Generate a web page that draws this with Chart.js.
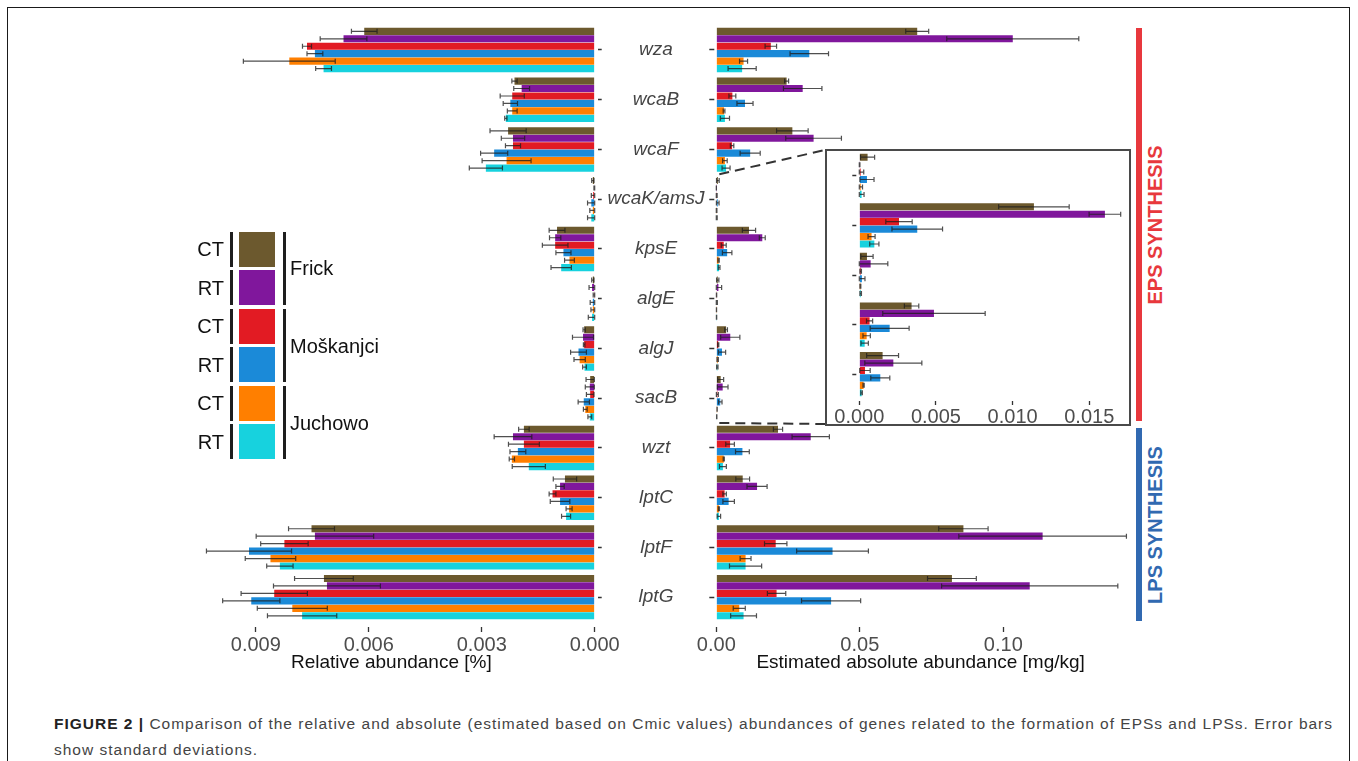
<!DOCTYPE html>
<html>
<head>
<meta charset="utf-8">
<script src="https://cdn.jsdelivr.net/npm/chart.js@4.4.1/dist/chart.umd.min.js"></script>
<style>
  body{margin:0;width:1358px;height:761px;overflow:hidden;background:#fff;position:relative;font-family:"Liberation Sans",Arial,sans-serif}
  .abs{position:absolute}
  #frame{left:7px;top:7px;width:1341px;height:820px;border:1.5px solid #1a1a1a}
  .sq{position:absolute;left:239px;width:36px;height:35px}
  .lbar{position:absolute;width:3px;background:#1e1e1e}
  .lt{position:absolute;font-size:20px;color:#111;transform:translateY(-50%);white-space:nowrap}
  .vlabel{position:absolute;font-weight:bold;font-size:20px;white-space:nowrap;transform:translate(-50%,-50%) rotate(-90deg)}
  #insetBox{left:825px;top:149px;width:302px;height:273px;border:2px solid #4a4a4a;background:#fff;z-index:5}
  #caption{left:54px;top:711px;font-size:15.5px;line-height:26px;color:#444;white-space:nowrap}
</style>
</head>
<body>
<div id="frame" class="abs"></div>
<canvas id="relChart" class="abs" width="540" height="680" style="left:180px;top:0"></canvas>
<canvas id="absChart" class="abs" width="470" height="680" style="left:660px;top:0"></canvas>
<div id="insetBox" class="abs"><canvas id="insetChart" width="302" height="273"></canvas></div>
<div id="legend"></div>
<div class="abs" style="left:1136px;top:28px;width:6px;height:393px;background:#E8383D"></div>
<div class="abs" style="left:1136px;top:428px;width:6px;height:193px;background:#3169B1"></div>
<div class="vlabel" style="left:1155px;top:225px;color:#E8383D">EPS SYNTHESIS</div>
<div class="vlabel" style="left:1155px;top:525px;color:#3169B1">LPS SYNTHESIS</div>
<div id="caption" class="abs"><span id="capLine1"><b style="color:#222">FIGURE 2 |</b> Comparison of the relative and absolute (estimated based on Cmic values) abundances of genes related to the formation of EPSs and LPSs. Error bars</span><br><span id="capLine2">show standard deviations.</span></div>
<script>
const genes = ['wza','wcaB','wcaF','wcaK/amsJ','kpsE','algE','algJ','sacB','wzt','lptC','lptF','lptG'];
const seriesSites = ['Frick','Frick','Moškanjci','Moškanjci','Juchowo','Juchowo'];
const seriesTillage = ['CT','RT','CT','RT','CT','RT'];
const seriesColors = ['#6C592E','#80179C','#E21B23','#1B8AD8','#FF7F00','#17D2DE'];

// relative abundance [%]
const relFrickCT = [0.00612,0.00213,0.00230,0.00005,0.00100,0.00005,0.00028,0.00012,0.00188,0.00079,0.00752,0.00719];
const relFrickRT = [0.00667,0.00194,0.00217,0.00001,0.00105,0.00007,0.00031,0.00013,0.00217,0.00092,0.00743,0.00711];
const relMosCT   = [0.00764,0.00219,0.00217,0.00004,0.00105,0.00002,0.00028,0.00012,0.00188,0.00112,0.00824,0.00851];
const relMosRT   = [0.00743,0.00224,0.00267,0.00009,0.00083,0.00005,0.00043,0.00029,0.00204,0.00092,0.00918,0.00912];
const relJuCT    = [0.00811,0.00219,0.00234,0.00005,0.00067,0.00005,0.00040,0.00025,0.00220,0.00068,0.00861,0.00803];
const relJuRT    = [0.00720,0.00236,0.00289,0.00009,0.00089,0.00007,0.00027,0.00013,0.00175,0.00076,0.00836,0.00777];
const relSdFrickCT = [0.00034,0.00007,0.00048,0.00003,0.00021,0.00003,0.00003,0.00011,0.00014,0.00031,0.00061,0.00078];
const relSdFrickRT = [0.00062,0.00021,0.00031,0.00001,0.00015,0.00008,0.00028,0.00012,0.00050,0.00011,0.00156,0.00142];
const relSdMosCT   = [0.00012,0.00032,0.00020,0.00005,0.00034,0.00002,0.00002,0.00010,0.00041,0.00009,0.00063,0.00088];
const relSdMosRT   = [0.00021,0.00019,0.00036,0.00010,0.00020,0.00007,0.00021,0.00015,0.00021,0.00026,0.00113,0.00076];
const relSdJuCT    = [0.00122,0.00013,0.00065,0.00008,0.00013,0.00005,0.00015,0.00005,0.00007,0.00008,0.00067,0.00093];
const relSdJuRT    = [0.00021,0.00003,0.00044,0.00010,0.00027,0.00010,0.00005,0.00005,0.00044,0.00012,0.00035,0.00092];

// estimated absolute abundance [mg/kg]
const absFrickCT = [0.0700,0.0245,0.0265,0.00054,0.01139,0.00050,0.00341,0.00152,0.0215,0.0092,0.0861,0.0821];
const absFrickRT = [0.1033,0.0301,0.0339,0.00002,0.01602,0.00074,0.00487,0.00222,0.0329,0.0142,0.1137,0.1092];
const absMosCT   = [0.0190,0.0056,0.0055,0.00009,0.00259,0.00009,0.00067,0.00037,0.0048,0.0029,0.0207,0.0210];
const absMosRT   = [0.0324,0.0100,0.0118,0.00050,0.00378,0.00017,0.00198,0.00137,0.0091,0.0043,0.0405,0.0400];
const absJuCT    = [0.0095,0.0027,0.0030,0.00009,0.00080,0.00007,0.00048,0.00028,0.0026,0.0009,0.0102,0.0080];
const absJuRT    = [0.0090,0.0030,0.0034,0.00015,0.00098,0.00009,0.00035,0.00015,0.0023,0.0009,0.0102,0.0095];
const absSdFrickCT = [0.0040,0.0007,0.0055,0.00046,0.00230,0.00040,0.00047,0.00104,0.0016,0.0024,0.0086,0.0085];
const absSdFrickRT = [0.0230,0.0067,0.0097,0.00002,0.00103,0.00112,0.00334,0.00186,0.0065,0.0035,0.0292,0.0307];
const absSdMosCT   = [0.0020,0.0012,0.0006,0.00020,0.00086,0.00005,0.00020,0.00034,0.0015,0.0006,0.0039,0.0032];
const absSdMosRT   = [0.0067,0.0028,0.0035,0.00046,0.00165,0.00020,0.00127,0.00062,0.0024,0.0020,0.0125,0.0103];
const absSdJuCT    = [0.0014,0.0003,0.0008,0.00012,0.00023,0.00003,0.00024,0.00004,0.0002,0.0002,0.0019,0.0021];
const absSdJuRT    = [0.0049,0.0016,0.0014,0.00016,0.00030,0.00005,0.00024,0.00005,0.0012,0.0006,0.0056,0.0045];

const relTicks = [0, 0.003, 0.006, 0.009];
const absTicks = [0, 0.05, 0.10];
const insetTicks = [0, 0.005, 0.010, 0.015];
const insetFrom = 3, insetTo = 8; // wcaK/amsJ .. sacB

const relSeries = [relFrickCT, relFrickRT, relMosCT, relMosRT, relJuCT, relJuRT];
const relSd = [relSdFrickCT, relSdFrickRT, relSdMosCT, relSdMosRT, relSdJuCT, relSdJuRT];
const absSeries = [absFrickCT, absFrickRT, absMosCT, absMosRT, absJuCT, absJuRT];
const absSd = [absSdFrickCT, absSdFrickRT, absSdMosCT, absSdMosRT, absSdJuCT, absSdJuRT];

const FONT = '"Liberation Sans", Arial, sans-serif';

// error bars drawn from the x scale of each chart
const errorBars = {
  id: 'errorBars',
  afterDatasetsDraw(chart){
    const ctx = chart.ctx, xs = chart.scales.x;
    ctx.save();
    ctx.strokeStyle = 'rgba(30,30,30,0.78)';
    ctx.lineWidth = 1.2;
    chart.data.datasets.forEach((ds, di) => {
      chart.getDatasetMeta(di).data.forEach((bar, i) => {
        const v = ds.data[i], sd = ds.sd[i];
        const x1 = xs.getPixelForValue(Math.max(0, v - sd)), x2 = xs.getPixelForValue(v + sd);
        const y = bar.y, h = 5;
        ctx.beginPath();
        ctx.moveTo(x1, y); ctx.lineTo(x2, y);
        ctx.moveTo(x1, y - h/2); ctx.lineTo(x1, y + h/2);
        ctx.moveTo(x2, y - h/2); ctx.lineTo(x2, y + h/2);
        ctx.stroke();
      });
    });
    ctx.restore();
  }
};

function makeDatasets(series, sds, from, to){
  return series.map((s, k) => ({
    label: seriesSites[k] + ' ' + seriesTillage[k],
    data: s.slice(from, to),
    sd: sds[k].slice(from, to),
    backgroundColor: seriesColors[k],
    borderWidth: 0,
    categoryPercentage: 0.9,
    barPercentage: 0.96
  }));
}

function xAxis(max, ticksAt, digits, title, reverse, height, tickDash, pad){
  return {
    type: 'linear', min: 0, max: max, reverse: reverse,
    afterBuildTicks: s => { s.ticks = ticksAt.map(v => ({value: v})); },
    ticks: {color: '#4d4d4d', font: {family: FONT, size: 20}, padding: pad, maxRotation: 0,
            callback: v => Number(v).toFixed(digits)},
    grid: {display: true, drawOnChartArea: false, drawTicks: true, tickLength: 10,
           tickColor: '#333', tickWidth: 1.3, tickBorderDash: tickDash},
    border: {display: false},
    title: {display: !!title, text: title, color: '#111', font: {family: FONT, size: 19},
            padding: {top: 0, bottom: 6}},
    afterFit: s => { s.height = height; }
  };
}

function yTicksOnly(position, width, dash){
  return {
    position: position,
    ticks: {display: false, autoSkip: false},
    grid: {display: true, offset: false, drawOnChartArea: false, tickLength: 7, tickColor: '#333',
           tickWidth: 1.5, tickBorderDash: dash},
    border: {display: false},
    afterFit: s => { s.width = width; }
  };
}

const common = {
  indexAxis: 'y', responsive: false, animation: false,
  plugins: {legend: {display: false}, tooltip: {enabled: false}}
};

// left panel: relative abundance, axis runs right-to-left
const mctx = document.createElement('canvas').getContext('2d');
mctx.font = 'italic 19px ' + FONT;
const widest = Math.max(...genes.map(g => mctx.measureText(g).width));
const geneCenter = 656 - 180; // inside left canvas
const relPlotRight = 594.7 - 180;

new Chart(document.getElementById('relChart'), {
  type: 'bar',
  data: {labels: genes, datasets: makeDatasets(relSeries, relSd, 0, genes.length)},
  options: Object.assign({}, common, {
    layout: {padding: {left: 8, top: 25.1, right: 0, bottom: 0}},
    scales: {
      x: xAxis(0.0108, relTicks, 3, 'Relative abundance [%]', true, 58, [0,5,5,100], 1),
      y: {
        position: 'right',
        ticks: {autoSkip: false, crossAlign: 'center', color: '#444',
                padding: geneCenter - relPlotRight - 7 - widest/2,
                font: {family: FONT, size: 19, style: 'italic'}},
        grid: {display: true, offset: false, drawOnChartArea: false, tickLength: 7, tickColor: '#333',
               tickWidth: 1.5, tickBorderDash: [0,3,4,100]},
        border: {display: false},
        afterFit: s => { s.width = 540 - relPlotRight; }
      }
    }
  }),
  plugins: [errorBars]
});

// right panel: estimated absolute abundance
const insetLeftInAbs = 825 - 660;
const connectors = {
  id: 'connectors',
  afterDraw(chart){
    const {ctx, scales: {x, y}} = chart;
    const x0 = x.getPixelForValue(0) + 3;
    ctx.save();
    ctx.strokeStyle = '#333'; ctx.lineWidth = 2; ctx.setLineDash([10, 6]);
    ctx.beginPath();
    ctx.moveTo(x0, y.getPixelForValue(insetFrom - 0.5)); ctx.lineTo(insetLeftInAbs, 150);
    ctx.moveTo(x0, y.getPixelForValue(insetTo - 0.5)); ctx.lineTo(insetLeftInAbs, 424);
    ctx.stroke();
    ctx.restore();
  }
};

new Chart(document.getElementById('absChart'), {
  type: 'bar',
  data: {labels: genes, datasets: makeDatasets(absSeries, absSd, 0, genes.length)},
  options: Object.assign({}, common, {
    layout: {padding: {left: 0, top: 25.1, right: 5, bottom: 0}},
    scales: {
      x: xAxis(0.1424, absTicks, 2, 'Estimated absolute abundance [mg/kg]', false, 58, [0,5,5,100], 1),
      y: yTicksOnly('left', 716.3 - 660, [5,100])
    }
  }),
  plugins: [errorBars, connectors]
});

// inset: zoom on the small EPS genes
new Chart(document.getElementById('insetChart'), {
  type: 'bar',
  data: {labels: genes.slice(insetFrom, insetTo), datasets: makeDatasets(absSeries, absSd, insetFrom, insetTo)},
  options: Object.assign({}, common, {
    layout: {padding: {left: 0, top: 0, right: 1.4, bottom: 0}},
    scales: {
      x: xAxis(0.0175, insetTicks, 3, '', false, 25, [0,2,4,100], -4),
      y: yTicksOnly('left', 859.3 - 827, [4,100])
    }
  }),
  plugins: [errorBars]
});

// legend: CT/RT per series, grouped by site
const legend = document.getElementById('legend');
const sqTop = 231.7, sqStep = 38.55, sqH = 35;
seriesColors.forEach((c, k) => {
  const top = sqTop + k * sqStep;
  legend.insertAdjacentHTML('beforeend',
    `<div class="sq" style="top:${top}px;background:${c}"></div>` +
    `<div class="lbar" style="left:229.5px;top:${top}px;height:${sqH}px"></div>` +
    `<div class="lt" style="right:${1358-224}px;top:${top + sqH/2}px">${seriesTillage[k]}</div>`);
  if (k % 2 === 0) {
    const bottom = top + sqStep + sqH;
    legend.insertAdjacentHTML('beforeend',
      `<div class="lbar" style="left:283px;top:${top}px;height:${bottom - top}px"></div>` +
      `<div class="lt" style="left:290px;top:${(top + bottom)/2}px">${seriesSites[k]}</div>`);
  }
});

// stretch caption spacing so the first line fills the frame width like the printed figure
const line1 = document.getElementById('capLine1');
const extra = (1279 - line1.getBoundingClientRect().width) / line1.textContent.length;
document.getElementById('caption').style.letterSpacing = extra.toFixed(3) + 'px';
</script>
</body>
</html>
